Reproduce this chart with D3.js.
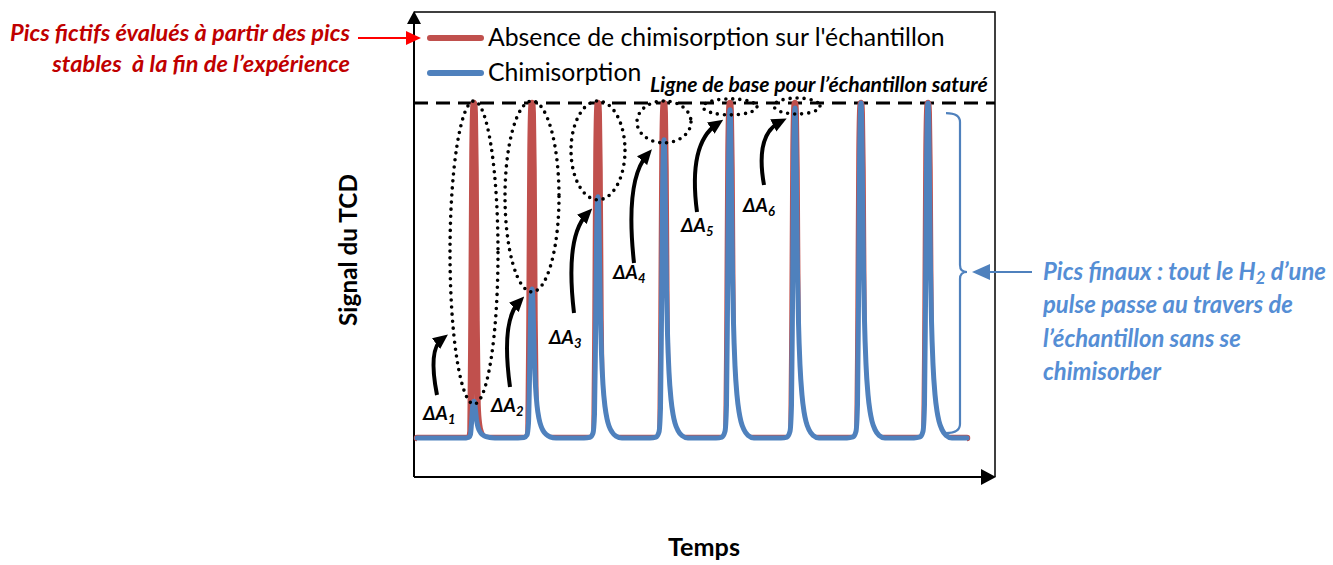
<!DOCTYPE html>
<html><head><meta charset="utf-8">
<script src="https://cdn.jsdelivr.net/npm/d3@7"></script>
<style>
body{margin:0;background:#fff}
svg{display:block}
text{font-family:Lato,'Open Sans',sans-serif}
</style>
</head><body><svg id="c" width="1333" height="565"></svg>
<script>
// ---------- data ----------
const peakTimes   = [60, 118, 184, 250, 316, 381, 447, 514];
const redHeights  = [100, 100, 100, 100, 100, 100, 100, 100];
const blueHeights = [11, 44.5, 72, 89, 98, 98.5, 100, 100];
const profileOffsets = [-14, -8, -5, -3.5, -2.5, -1.5, -0.5, 0, 0.7, 1.5, 2.5, 3.5, 5, 7, 9, 11, 14, 18, 24];
const blueShape = [0, 0.003, 0.02, 0.1, 0.4, 0.8, 0.98, 1, 0.95, 0.75, 0.5, 0.35, 0.22, 0.13, 0.08, 0.05, 0.025, 0.008, 0];
const redShape  = [0, 0, 0, 0.02, 0.35, 0.85, 0.99, 1, 0.97, 0.8, 0.35, 0.1, 0.04, 0.015, 0.005, 0, 0, 0, 0];
const timeRange = [3, 553];
const baselineLevel = 100;
const seriesNames = ["Absence de chimisorption sur l'échantillon", "Chimisorption"];
const deltaIndices = ["1", "2", "3", "4", "5", "6"];
const leftNote = ["Pics fictifs évalués à partir des pics", "stables\u00a0 à la fin de l’expérience"];
const baseNote = "Ligne de base pour l’échantillon saturé";
const rightNote = ["pulse passe au travers de", "l’échantillon sans se", "chimisorber"];
const yTitle = "Signal du TCD", xTitle = "Temps";

// ---------- layout ----------
const frame = {left: 414, top: 12, right: 995, bottom: 477};
const RED = "#C0504D", BLUE = "#4F81BD", NOTE_RED = "#C00000", NOTE_BLUE = "#558ED5";
const svg = d3.select("#c");

const x = d3.scaleLinear().domain([0, 581]).range([frame.left, frame.right]);
const y = d3.scaleLinear().domain([0, 100]).range([438, 103]);

function buildSeries(heights, shape) {
  const pts = [[timeRange[0], 0]];
  peakTimes.forEach((t, i) => {
    profileOffsets.forEach((o, j) => pts.push([t + o, heights[i] * shape[j]]));
  });
  pts.push([timeRange[1], 0]);
  return pts;
}
const line = d3.line().x(d => x(d[0])).y(d => y(d[1])).curve(d3.curveMonotoneX);
const area = d3.area().x(d => x(d[0])).y0(y(0) + 5).y1(d => y(d[1])).curve(d3.curveMonotoneX);

function fit(sel, w) {
  const L = sel.node().getComputedTextLength();
  const fs = parseFloat(sel.attr("font-size"));
  const nfs = fs * w / L;
  sel.attr("font-size", nfs);
  return nfs;
}

// markers
const defs = svg.append("defs");
defs.append("marker").attr("id", "ah").attr("viewBox", "0 0 10 10")
  .attr("refX", 5).attr("refY", 5).attr("markerWidth", 15).attr("markerHeight", 15)
  .attr("markerUnits", "userSpaceOnUse").attr("orient", "auto")
  .append("path").attr("d", "M0,0.5 L10,5 L0,9.5 Z").attr("fill", "#000");

// frame
svg.append("path").attr("d", `M${frame.left},${frame.bottom} L${frame.left},${frame.top+4}`)
  .attr("stroke", "#000").attr("stroke-width", 2).attr("fill", "none");
svg.append("path").attr("d", `M${frame.left},${frame.top} L${frame.right},${frame.top} L${frame.right},${frame.bottom}`)
  .attr("stroke", "#000").attr("stroke-width", 1.5).attr("fill", "none");
svg.append("path").attr("d", `M${frame.left},${frame.bottom} L${frame.right-8},${frame.bottom}`)
  .attr("stroke", "#000").attr("stroke-width", 2).attr("fill", "none");
svg.append("path").attr("d", `M${frame.left},${frame.top-1} L${frame.left-7},${frame.top+12} L${frame.left+7},${frame.top+12} Z`).attr("fill", "#000");
svg.append("path").attr("d", `M${frame.right+1},${frame.bottom} L${frame.right-14},${frame.bottom-8} L${frame.right-14},${frame.bottom+8} Z`).attr("fill", "#000");

// dashed baseline
svg.append("line").attr("x1", frame.left).attr("x2", frame.right)
  .attr("y1", y(baselineLevel)).attr("y2", y(baselineLevel))
  .attr("stroke", "#000").attr("stroke-width", 3).attr("stroke-dasharray", "14 8");

// series
const redData = buildSeries(redHeights, redShape);
const blueData = buildSeries(blueHeights, blueShape);
svg.append("path").datum(redData).attr("d", line)
  .attr("fill", "none").attr("stroke", RED).attr("stroke-width", 6.5)
  .attr("stroke-linejoin", "round").attr("stroke-linecap", "round");
svg.append("path").datum(blueData).attr("d", area).attr("fill", "#fff");
svg.append("path").datum(blueData).attr("d", line)
  .attr("fill", "none").attr("stroke", BLUE).attr("stroke-width", 5)
  .attr("stroke-linejoin", "round").attr("stroke-linecap", "round");

// dotted ellipses
const ellRx = [24, 27, 27, 27, 27, 23];
deltaIndices.forEach((d, i) => {
  const top = y(redHeights[i]) - 2, bot = y(blueHeights[i]) + 3;
  const ry = Math.max((bot - top) / 2, 8);
  const cy = (top + bot) / 2;
  svg.append("ellipse").attr("cx", x(peakTimes[i]) + (i === 5 ? 2 : 0)).attr("cy", cy)
    .attr("rx", ellRx[i]).attr("ry", ry)
    .attr("fill", "none").attr("stroke", "#000").attr("stroke-width", 3.6)
    .attr("stroke-dasharray", "0 7").attr("stroke-linecap", "round");
});

// curved arrows + labels (hand-placed annotations, offsets from peaks)
const arrows = [
  {sx: -37, sy: 395, tx: -32, ty: 332, lx: -51, ly: 420},
  {sx: -22, sy: 387, tx: -13, ty: 295, lx: -41, ly: 412},
  {sx: -24, sy: 313, tx: -11, ty: 207, lx: -49, ly: 344},
  {sx: -30, sy: 263, tx: -17, ty: 148, lx: -51, ly: 279},
  {sx: -33, sy: 212, tx: -13, ty: 117, lx: -49, ly: 232},
  {sx: -31, sy: 185, tx: -15, ty: 115, lx: -52, ly: 212}
];
arrows.forEach((a, i) => {
  const px = x(peakTimes[i]);
  const sx = px + a.sx, tx = px + a.tx;
  const cx = Math.min(sx, tx) - 9, cy = a.sy + (a.ty - a.sy) * 0.72;
  svg.append("path").attr("d", `M${sx},${a.sy} Q${cx},${cy} ${tx},${a.ty + 7}`)
    .attr("fill", "none").attr("stroke", "#000").attr("stroke-width", 4)
    .attr("marker-end", "url(#ah)");
  const t = svg.append("text").attr("x", px + a.lx).attr("y", a.ly)
    .attr("font-size", 19).attr("font-weight", "bold").attr("font-style", "italic").attr("fill", "#000");
  t.append("tspan").text("ΔA");
  t.append("tspan").attr("font-size", 13).attr("dy", 4).text(deltaIndices[i]);
});

// legend
const legY = [38, 73], legText = [46, 81];
[RED, BLUE].forEach((c, i) => {
  svg.append("line").attr("x1", 430).attr("x2", 481).attr("y1", legY[i]).attr("y2", legY[i])
    .attr("stroke", c).attr("stroke-width", 6).attr("stroke-linecap", "round");
});
const lg1 = svg.append("text").attr("x", 488).attr("y", legText[0]).attr("font-size", 22).attr("fill", "#000").text(seriesNames[0]);
const lfs = fit(lg1, 457);
svg.append("text").attr("x", 488).attr("y", legText[1]).attr("font-size", lfs).attr("fill", "#000").text(seriesNames[1]);

// baseline note
const bn = svg.append("text").attr("x", 650).attr("y", 92).attr("font-size", 16)
  .attr("font-weight", "bold").attr("font-style", "italic").attr("fill", "#000").text(baseNote);
fit(bn, 338);

// left red note
const ln1 = svg.append("text").attr("x", 350).attr("y", 41).attr("text-anchor", "end").attr("font-size", 19)
  .attr("font-weight", "bold").attr("font-style", "italic").attr("fill", NOTE_RED).text(leftNote[0]);
const nfs = fit(ln1, 340);
svg.append("text").attr("x", 350).attr("y", 72).attr("text-anchor", "end").attr("font-size", nfs)
  .attr("font-weight", "bold").attr("font-style", "italic").attr("fill", NOTE_RED).text(leftNote[1]);
svg.append("line").attr("x1", 358).attr("x2", 408).attr("y1", 38).attr("y2", 38)
  .attr("stroke", "#FF0000").attr("stroke-width", 2);
svg.append("path").attr("d", "M421,38 L406,31 L406,45 Z").attr("fill", "#FF0000");

// right bracket + arrow
const bt = y(97), bb = y(1.5), bm = 272, bx = 960;
svg.append("path").attr("d",
  `M${bx-14},${bt} Q${bx},${bt} ${bx},${bt+9} L${bx},${bm-7} Q${bx},${bm} ${bx+7},${bm} Q${bx},${bm} ${bx},${bm+7} L${bx},${bb-9} Q${bx},${bb} ${bx-14},${bb}`)
  .attr("fill", "none").attr("stroke", BLUE).attr("stroke-width", 2.2);
svg.append("line").attr("x1", 1032).attr("x2", 984).attr("y1", bm).attr("y2", bm)
  .attr("stroke", BLUE).attr("stroke-width", 2);
svg.append("path").attr("d", `M972,${bm} L990,${bm-8} L990,${bm+8} Z`).attr("fill", BLUE);

// right note
const rl2 = svg.append("text").attr("x", 1043).attr("y", 313).attr("font-size", 19)
  .attr("font-weight", "bold").attr("font-style", "italic").attr("fill", NOTE_BLUE).text(rightNote[0]);
const rfs = fit(rl2, 250);
const rl1 = svg.append("text").attr("x", 1043).attr("y", 280).attr("font-size", rfs)
  .attr("font-weight", "bold").attr("font-style", "italic").attr("fill", NOTE_BLUE);
rl1.append("tspan").text("Pics finaux : tout le H");
rl1.append("tspan").attr("font-size", rfs * 0.7).attr("dy", 4).text("2");
rl1.append("tspan").attr("dy", -4).text(" d’une");
svg.append("text").attr("x", 1043).attr("y", 347).attr("font-size", rfs)
  .attr("font-weight", "bold").attr("font-style", "italic").attr("fill", NOTE_BLUE).text(rightNote[1]);
svg.append("text").attr("x", 1043).attr("y", 380).attr("font-size", rfs)
  .attr("font-weight", "bold").attr("font-style", "italic").attr("fill", NOTE_BLUE).text(rightNote[2]);

// axis titles
const yt = svg.append("text").attr("transform", "translate(357,250) rotate(-90)")
  .attr("text-anchor", "middle").attr("font-size", 20).attr("font-weight", "bold").attr("fill", "#000").text(yTitle);
fit(yt, 152);
const xt = svg.append("text").attr("x", 704).attr("y", 556).attr("text-anchor", "middle")
  .attr("font-size", 20).attr("font-weight", "bold").attr("fill", "#000").text(xTitle);
fit(xt, 72);
</script>
</body></html>
